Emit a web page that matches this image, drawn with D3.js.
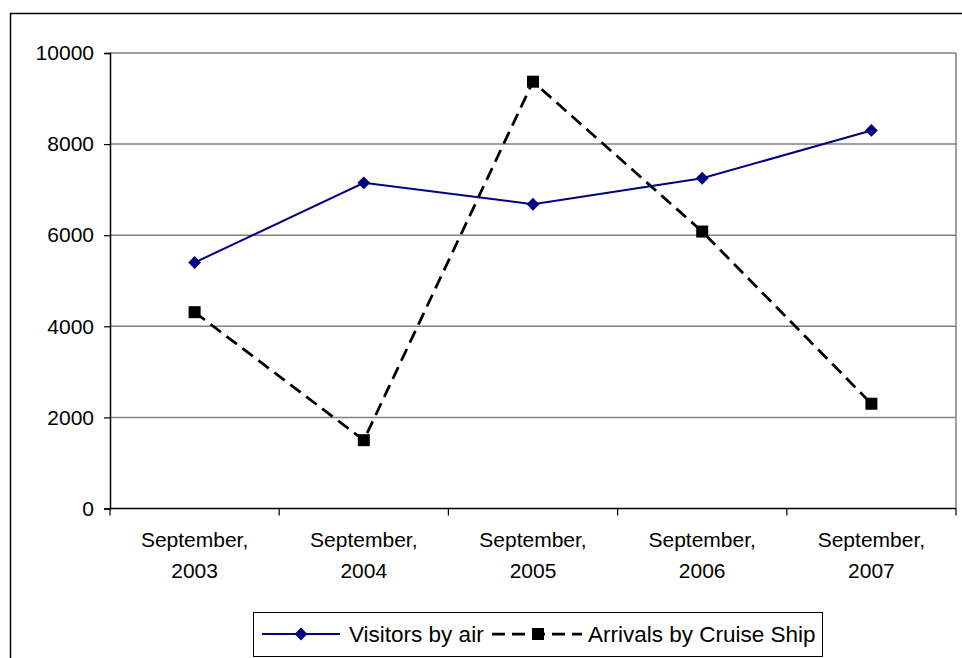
<!DOCTYPE html>
<html>
<head>
<meta charset="utf-8">
<script src="https://d3js.org/d3.v7.min.js"></script>
<style>
  body { margin: 0; background: #fff; }
  svg text { font-family: "Liberation Sans", Arial, sans-serif; fill: #000; }
</style>
</head>
<body>
<svg id="chart" width="962" height="658"></svg>
<script>
const categories = [["September,", "2003"], ["September,", "2004"], ["September,", "2005"], ["September,", "2006"], ["September,", "2007"]];
const visitorsByAir = [5400, 7150, 6680, 7250, 8300];
const cruiseArrivals = [4310, 1500, 9370, 6080, 2300];
const yTicks = [0, 2000, 4000, 6000, 8000, 10000];

const svg = d3.select("svg#chart");
const plot = { left: 110, top: 53, right: 956, bottom: 508.5 };

// outer chart border (runs off the right and bottom of the picture)
svg.append("rect").attr("x", 10.5).attr("y", 13.5).attr("width", 970).attr("height", 700)
  .attr("fill", "none").attr("stroke", "#000").attr("stroke-width", 1.5);

const x = d3.scaleBand().domain(d3.range(categories.length)).range([plot.left, plot.right]);
const y = d3.scaleLinear().domain([0, 10000]).range([plot.bottom, plot.top]);
const cx = i => x(i) + x.bandwidth() / 2;

// gridlines
svg.append("g").selectAll("line.grid").data(yTicks.filter(d => d > 0)).enter().append("line")
  .attr("x1", plot.left).attr("x2", plot.right)
  .attr("y1", d => y(d)).attr("y2", d => y(d))
  .attr("stroke", "#808080").attr("stroke-width", 1.5);

// right border of plot area
svg.append("line").attr("x1", plot.right).attr("x2", plot.right).attr("y1", plot.top).attr("y2", plot.bottom)
  .attr("stroke", "#808080").attr("stroke-width", 1.5);

// y axis
const yAxis = svg.append("g").attr("transform", "translate(" + plot.left + ",0)")
  .call(d3.axisLeft(y).tickValues(yTicks).tickSize(6).tickPadding(10).tickFormat(d3.format("d")));
yAxis.select(".domain").attr("stroke", "#000").attr("stroke-width", 1.5);
yAxis.selectAll(".tick line").attr("stroke", "#000").attr("stroke-width", 1.2);
yAxis.selectAll("text").attr("font-size", 21).attr("font-family", "Liberation Sans, Arial, sans-serif").attr("fill", "#000");

// x axis
const xAxis = svg.append("g").attr("transform", "translate(0," + plot.bottom + ")");
xAxis.append("line").attr("x1", plot.left).attr("x2", plot.right).attr("stroke", "#000").attr("stroke-width", 1.5);
xAxis.selectAll("line.tick").data(d3.range(categories.length + 1)).enter().append("line")
  .attr("x1", i => plot.left + i * x.bandwidth()).attr("x2", i => plot.left + i * x.bandwidth())
  .attr("y1", 0).attr("y2", 7).attr("stroke", "#000").attr("stroke-width", 1.2);
const xl = xAxis.selectAll("text.cat").data(categories).enter().append("text")
  .attr("class", "cat").attr("text-anchor", "middle").attr("font-size", 21);
xl.append("tspan").attr("x", (d, i) => cx(i)).attr("y", 38.5).text(d => d[0]);
xl.append("tspan").attr("x", (d, i) => cx(i)).attr("y", 69).text(d => d[1]);

const line = d3.line().x((d, i) => cx(i)).y(d => y(d));

// cruise ship series
svg.append("path").datum(cruiseArrivals).attr("d", line).attr("fill", "none")
  .attr("stroke", "#000").attr("stroke-width", 2.75).attr("stroke-dasharray", "13,7");
svg.append("g").selectAll("rect").data(cruiseArrivals).enter().append("rect")
  .attr("x", (d, i) => cx(i) - 6).attr("y", d => y(d) - 6)
  .attr("width", 12).attr("height", 12).attr("fill", "#000");

// visitors by air series
const diamond = d3.symbol().type(d3.symbolDiamond2).size(105);
svg.append("path").datum(visitorsByAir).attr("d", line).attr("fill", "none")
  .attr("stroke", "#000080").attr("stroke-width", 2);
svg.append("g").selectAll("path").data(visitorsByAir).enter().append("path")
  .attr("d", diamond).attr("transform", (d, i) => "translate(" + cx(i) + "," + y(d) + ")")
  .attr("fill", "#000080");

// legend
const lg = svg.append("g");
lg.append("rect").attr("x", 253.5).attr("y", 612.5).attr("width", 569).attr("height", 44)
  .attr("fill", "#fff").attr("stroke", "#000").attr("stroke-width", 1);
lg.append("line").attr("x1", 262).attr("x2", 340).attr("y1", 634).attr("y2", 634)
  .attr("stroke", "#000080").attr("stroke-width", 2);
lg.append("path").attr("d", diamond).attr("transform", "translate(301,634)").attr("fill", "#000080");
lg.append("text").attr("x", 349).attr("y", 642).attr("font-size", 22.5).text("Visitors by air");
lg.append("line").attr("x1", 492).attr("x2", 582).attr("y1", 634).attr("y2", 634)
  .attr("stroke", "#000").attr("stroke-width", 2.75).attr("stroke-dasharray", "13,7");
lg.append("rect").attr("x", 532).attr("y", 628).attr("width", 12).attr("height", 12).attr("fill", "#000");
lg.append("text").attr("x", 588).attr("y", 642).attr("font-size", 22.5).text("Arrivals by Cruise Ship");
</script>
</body>
</html>
